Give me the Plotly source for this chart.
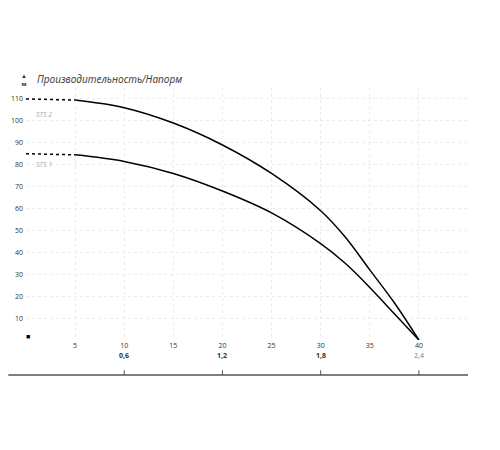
import plotly.graph_objects as go

# flow, l/min
flow = [0, 5, 10, 15, 20, 25, 30, 32.5, 35, 37.5, 40]
sts2_head = [110, 109.5, 106, 99, 89, 76, 59, 47, 32, 17, 0]
sts1_head = [85, 84.5, 81.5, 76, 68, 58, 44, 35, 24, 12, 0]

y_ticks = [10, 20, 30, 40, 50, 60, 70, 80, 90, 100, 110]
x_ticks = [5, 10, 15, 20, 25, 30, 35, 40]
m3_pos = [10, 20, 30, 40]
m3_labels = ["0,6", "1,2", "1,8", "2,4"]

fig = go.Figure()
for head, name, ly in [(sts2_head, "STS 2", 103), (sts1_head, "STS 1", 80)]:
    fig.add_trace(go.Scatter(x=flow[:2], y=head[:2], mode="lines",
                             line=dict(color="black", width=1.5, dash="dot", shape="spline"),
                             showlegend=False, hoverinfo="skip"))
    fig.add_trace(go.Scatter(x=flow[1:], y=head[1:], mode="lines", name=name,
                             line=dict(color="black", width=1.5, shape="spline", smoothing=1),
                             showlegend=False))
    fig.add_annotation(x=0.8, y=ly, text="<i>" + name + "</i>", showarrow=False,
                       xanchor="left", font=dict(size=7, color="#aaaaaa"))

# second (m3/h) axis drawn as line + labels
fig.add_shape(type="line", xref="paper", yref="paper", x0=-0.04, x1=1.0,
              y0=-0.139, y1=-0.139, line=dict(color="#555555", width=1.5))
for p, t in zip(m3_pos, m3_labels):
    fig.add_shape(type="line", xref="x", yref="paper", x0=p, x1=p, y0=-0.139, y1=-0.12,
                  line=dict(color="#555555", width=1))
    fig.add_annotation(x=p, y=-0.088, xref="x", yref="paper", text="<b>" + t + "</b>",
                       showarrow=False, font=dict(size=7, color="#333333" if t != "2,4" else "#aaaaaa"))
fig.add_annotation(x=45.5, y=-0.03, xref="x", yref="paper", text="<i>л/мин</i> ➔",
                   showarrow=False, xanchor="left", font=dict(size=6, color="#333333"))
fig.add_annotation(x=45.5, y=-0.088, xref="x", yref="paper", text="<span style='color:#bbb'>м³/час</span> ➔",
                   showarrow=False, xanchor="left", font=dict(size=6, color="#333333"))
fig.add_annotation(x=-0.005, y=1.07, xref="paper", yref="paper", text="▲<br><b>м</b>",
                   showarrow=False, xanchor="center", font=dict(size=6, color="#333333"))
fig.add_annotation(x=0.02, y=1.07, xref="paper", yref="paper",
                   text="<i>Производительность/Напорм</i>", showarrow=False,
                   xanchor="left", font=dict(size=10, color="#333333"))
fig.add_annotation(x=-0.005, y=-0.01, xref="paper", yref="paper", text="■",
                   showarrow=False, font=dict(size=7, color="black"))

fig.update_layout(
    width=500, height=450, plot_bgcolor="white", paper_bgcolor="white",
    margin=dict(l=18, r=40, t=80, b=118),
    font=dict(family="Open Sans", color="#333333"),
    xaxis=dict(range=[0, 45], tickvals=x_ticks, showgrid=True, gridcolor="#ececec",
               griddash="dot", zeroline=False, showline=False, automargin=False,
               tickfont=dict(size=7), ticklabelstandoff=0),
    yaxis=dict(range=[0, 115], tickvals=y_ticks, showgrid=True, gridcolor="#ececec",
               griddash="dot", zeroline=False, showline=False, automargin=False,
               tickfont=dict(size=7), ticklabelstandoff=2),
)
fig.write_html("out.html")
